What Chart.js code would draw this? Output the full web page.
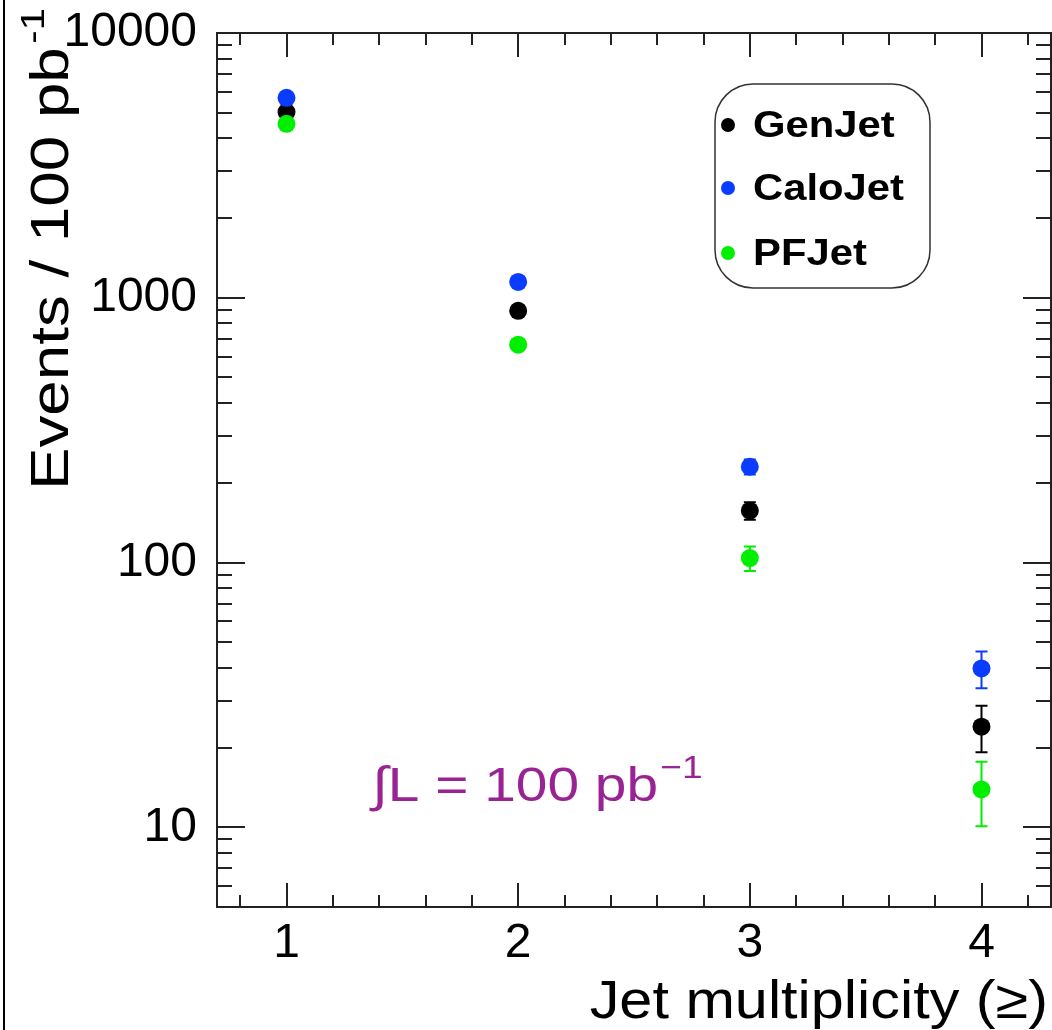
<!DOCTYPE html>
<html>
<head>
<meta charset="utf-8">
<script src="https://cdn.jsdelivr.net/npm/chart.js@4.4.1/dist/chart.umd.min.js"></script>
<style>
  html, body { margin: 0; padding: 0; background: #fff; }
  #wrap { width: 1052px; height: 1030px; position: relative; }
</style>
</head>
<body>
<div id="wrap"><canvas id="myChart" width="1052" height="1030"></canvas></div>
<script>
'use strict';

// jet multiplicity bins
const multiplicity = [1, 2, 3, 4];

// events / 100 pb-1
const genJet = [5030, 893, 157, 24.0];
const genJetErr = [70, 30, 12, 4.8];
const caloJet = [5690, 1148, 230, 39.8];
const caloJetErr = [75, 34, 15, 6.3];
const pfJet = [4540, 665, 104, 13.9];
const pfJetErr = [67, 26, 11, 3.8];

const xTicks = [1, 2, 3, 4];
const yTicks = [10, 100, 1000, 10000];

const xTitle = 'Jet multiplicity (\u2265)';
const yTitle = 'Events / 100 pb';
const lumiText = '\u222BL = 100 pb';

const FONT = '"Liberation Sans", Arial, Helvetica, sans-serif';

const maakPunten = function(values, errs) {
  return multiplicity.map((m, i) => ({ x: m, y: values[i], err: errs[i] }));
};

// draws error bars, the ROOT-style frame with inward ticks, legend and labels
const rootStyle = {
  id: 'rootStyle',
  afterDatasetsDraw(chart) {
    const ctx = chart.ctx;
    const xs = chart.scales.x;
    const ys = chart.scales.y;
    ctx.save();
    chart.data.datasets.forEach(function(ds) {
      ctx.strokeStyle = ds.borderColor;
      ctx.lineWidth = 2;
      for (let p of ds.data) {
        const px = xs.getPixelForValue(p.x);
        const top = ys.getPixelForValue(p.y + p.err);
        const bot = ys.getPixelForValue(p.y - p.err);
        ctx.beginPath();
        ctx.moveTo(px, top); ctx.lineTo(px, bot);
        ctx.moveTo(px - 6, top); ctx.lineTo(px + 6, top);
        ctx.moveTo(px - 6, bot); ctx.lineTo(px + 6, bot);
        ctx.stroke();
      }
    });
    ctx.restore();
  },
  afterDraw(chart) {
    const ctx = chart.ctx;
    const a = chart.chartArea;
    const xs = chart.scales.x;
    const ys = chart.scales.y;
    ctx.save();

    // page border on the left
    ctx.strokeStyle = '#000';
    ctx.lineWidth = 2;
    ctx.beginPath();
    ctx.moveTo(4, 0); ctx.lineTo(4, 1030);
    ctx.stroke();

    // frame
    ctx.strokeStyle = '#222';
    ctx.lineWidth = 2;
    ctx.strokeRect(a.left, a.top, a.right - a.left, a.bottom - a.top);

    // x ticks every 0.2, bottom and top
    ctx.beginPath();
    for (let k = 8; k <= 42; k += 2) {
      const v = k / 10;
      const px = Math.round(xs.getPixelForValue(v));
      const len = k % 10 === 0 ? 24 : 12;
      ctx.moveTo(px, a.bottom); ctx.lineTo(px, a.bottom - len);
      ctx.moveTo(px, a.top); ctx.lineTo(px, a.top + len);
    }
    // y ticks, log minors
    for (let dec = 1; dec <= 10000; dec *= 10) {
      for (let m = 1; m <= 9; m++) {
        const v = m * dec;
        if (v < 5 || v > 10000) continue;
        const py = Math.round(ys.getPixelForValue(v));
        const len = m === 1 ? 28 : 15;
        ctx.moveTo(a.left, py); ctx.lineTo(a.left + len, py);
        ctx.moveTo(a.right, py); ctx.lineTo(a.right - len, py);
      }
    }
    ctx.stroke();

    // axis titles
    ctx.fillStyle = '#000';
    ctx.textBaseline = 'alphabetic';
    ctx.save();
    ctx.translate(1048, 1018);
    ctx.scale(1.1, 1);
    ctx.font = '54px ' + FONT;
    ctx.textAlign = 'right';
    ctx.fillText(xTitle, 0, 0);
    ctx.restore();

    ctx.save();
    ctx.translate(68, 0);
    ctx.rotate(-Math.PI / 2);
    ctx.scale(1.18, 1);
    ctx.font = '54px ' + FONT;
    ctx.textAlign = 'right';
    ctx.fillText(yTitle, -40, 0);
    ctx.font = '34px ' + FONT;
    ctx.textAlign = 'left';
    ctx.fillText('-1', -37, -24);
    ctx.restore();

    // luminosity label
    const lx = xs.getPixelForValue(1.37);
    const ly = ys.getPixelForValue(12.6);
    ctx.save();
    ctx.translate(lx, ly);
    ctx.scale(1.16, 1);
    ctx.fillStyle = '#9a2394';
    ctx.font = '49px ' + FONT;
    ctx.textAlign = 'left';
    ctx.fillText(lumiText, 0, 0);
    const w = ctx.measureText(lumiText).width;
    ctx.font = '32px ' + FONT;
    ctx.fillText('\u22121', w + 2, -23);
    ctx.restore();

    // legend box
    ctx.strokeStyle = '#333';
    ctx.lineWidth = 1.5;
    ctx.fillStyle = '#fff';
    ctx.beginPath();
    ctx.roundRect(715, 84, 215, 204, 38);
    ctx.fill();
    ctx.stroke();
    const rows = [125, 188, 253];
    chart.data.datasets.forEach(function(ds, i) {
      ctx.fillStyle = ds.backgroundColor;
      ctx.beginPath();
      ctx.arc(728, rows[i], 7, 0, Math.PI * 2);
      ctx.fill();
      ctx.save();
      ctx.translate(753, rows[i] + 2);
      ctx.scale(1.13, 1);
      ctx.fillStyle = '#000';
      ctx.font = 'bold 37px ' + FONT;
      ctx.textAlign = 'left';
      ctx.textBaseline = 'middle';
      ctx.fillText(ds.label, 0, 0);
      ctx.restore();
    });
    ctx.restore();
  }
};

const displayChart = function() {
  const ctx = document.getElementById('myChart');
  const myChart = new Chart(ctx, {
    type: 'scatter',
    data: {
      datasets: [
        {
          label: 'GenJet',
          data: maakPunten(genJet, genJetErr),
          backgroundColor: '#000000',
          borderColor: '#000000',
          order: 2
        },
        {
          label: 'CaloJet',
          data: maakPunten(caloJet, caloJetErr),
          backgroundColor: '#0a3cff',
          borderColor: '#0a3cff',
          order: 1
        },
        {
          label: 'PFJet',
          data: maakPunten(pfJet, pfJetErr),
          backgroundColor: '#00ee00',
          borderColor: '#00ee00',
          order: 0
        }
      ]
    },
    options: {
      responsive: false,
      animation: false,
      devicePixelRatio: 1,
      layout: { autoPadding: false, padding: { left: 0, right: 1, top: 33, bottom: 0 } },
      elements: {
        point: { radius: 9, hoverRadius: 9, borderWidth: 0, pointStyle: 'circle' }
      },
      plugins: {
        legend: { display: false },
        tooltip: { enabled: false }
      },
      scales: {
        x: {
          type: 'linear',
          min: 0.7,
          max: 4.3,
          afterBuildTicks: function(scale) {
            scale.ticks = xTicks.map(v => ({ value: v }));
          },
          afterFit: function(scale) {
            scale.height = 123;
            scale.paddingLeft = 0;
            scale.paddingRight = 0;
          },
          ticks: {
            color: '#000',
            padding: 8,
            maxRotation: 0,
            font: { family: FONT, size: 48 },
            callback: v => String(v)
          },
          grid: { display: false, drawTicks: false },
          border: { display: false }
        },
        y: {
          type: 'logarithmic',
          min: 5,
          max: 10000,
          afterBuildTicks: function(scale) {
            scale.ticks = yTicks.map(v => ({ value: v }));
          },
          afterFit: function(scale) {
            scale.width = 217;
            scale.paddingTop = 0;
            scale.paddingBottom = 0;
          },
          ticks: {
            color: '#000',
            padding: 20,
            font: { family: FONT, size: 48 },
            callback: v => String(v)
          },
          grid: { display: false, drawTicks: false },
          border: { display: false }
        }
      }
    },
    plugins: [rootStyle]
  });
};

document.addEventListener('DOMContentLoaded', function() {
  displayChart();
});
</script>
</body>
</html>
